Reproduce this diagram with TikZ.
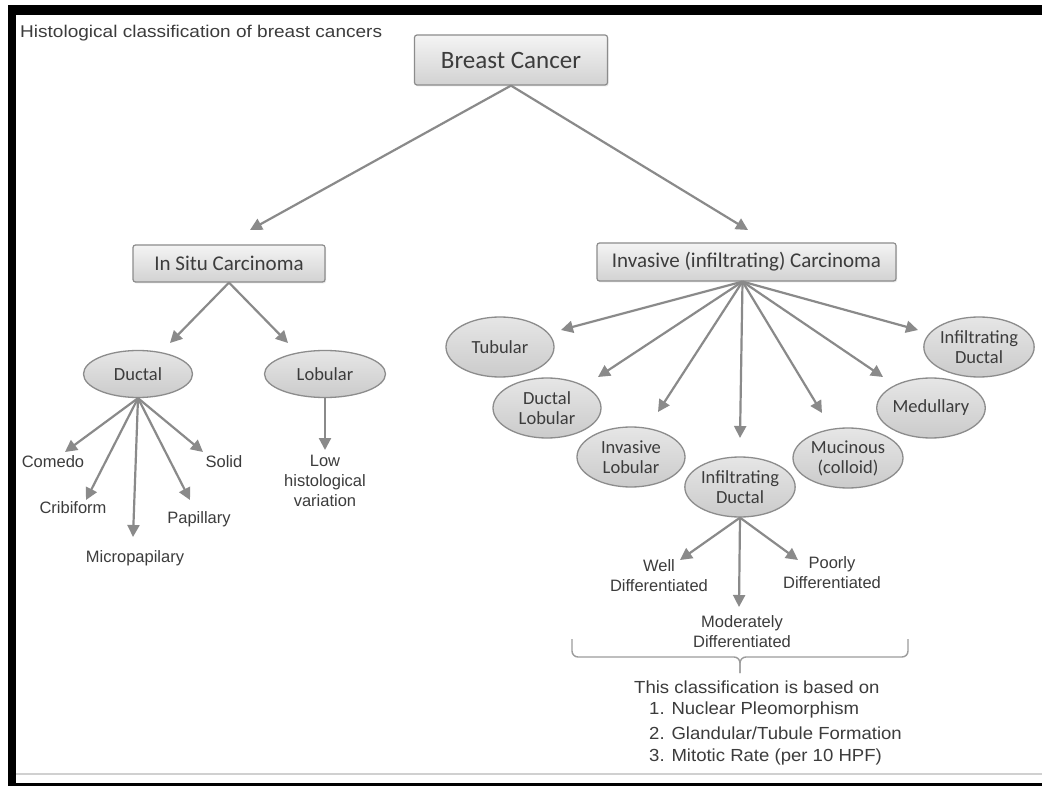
\documentclass[tikz,border=0pt]{standalone}
\usepackage{fontspec}
\setmainfont{Liberation Sans}
\newfontfamily\carl{Carlito}
\newfontfamily\lwide[FakeStretch=1.12]{Liberation Sans}
\newfontfamily\lbot[FakeStretch=1.06]{Liberation Sans}
\usetikzlibrary{arrows.meta,shapes.geometric,shadows}
\definecolor{arrowgray}{HTML}{8A8A8A}
\definecolor{txt}{HTML}{3C3C3C}
\definecolor{edgegray}{HTML}{8C8C8C}
\definecolor{boxtop}{HTML}{F4F4F4}
\definecolor{boxbot}{HTML}{D2D2D2}
\definecolor{elltop}{HTML}{E6E6E6}
\definecolor{ellbot}{HTML}{CBCBCB}
\definecolor{rulegray}{HTML}{D0D0D0}
\tikzset{
  box/.style={draw=edgegray, line width=1.2pt, rounded corners=2.5pt, top color=boxtop, bottom color=boxbot,
    text=txt, inner sep=0pt, drop shadow={opacity=0.18, shadow xshift=1pt, shadow yshift=-1.5pt}},
  ell/.style={ellipse, draw=edgegray, line width=1.3pt, top color=elltop, bottom color=ellbot, text=txt,
    font=\carl\fontsize{18.5}{20}\selectfont, inner sep=0pt, align=center, minimum width=108pt, minimum height=60pt},
  lbl/.style={text=txt, font=\fontsize{16.5}{20}\selectfont, align=center, inner sep=0pt},
  crit/.style={text=txt, font=\lbot\fontsize{17.5}{23}\selectfont, inner sep=0pt, anchor=west},
  arr/.style={draw=arrowgray, line width=2.2pt, -{Triangle[length=12pt,width=12pt]}},
  bracestyle/.style={draw=arrowgray!85, line width=1.4pt, rounded corners=6pt}
}
\begin{document}
\begin{tikzpicture}[x=1pt,y=-1pt]
\useasboundingbox (0,0) rectangle (1042,786);
\fill[white] (0,0) rectangle (1042,786);
% frame
\fill[black] (8,5) rectangle (1042,15);
\fill[black] (8,5) rectangle (16,786);
\fill[black] (8,783) rectangle (1042,786);
\draw[rulegray, line width=2pt] (16,774) -- (1042,774);

% title
\node[text=txt, font=\lwide\fontsize{17}{20}\selectfont, inner sep=0pt, anchor=west] (title) at (20,33) {Histological classification of breast cancers};

% boxes
\node[box, minimum width=193pt, minimum height=50pt, font=\carl\fontsize{25}{28}\selectfont] (bc) at (511,60) {Breast Cancer};
\node[box, minimum width=192pt, minimum height=37pt, font=\carl\fontsize{21}{24}\selectfont] (insitu) at (229,263.5) {In Situ Carcinoma};
\node[box, minimum width=299pt, minimum height=38pt, font=\carl\fontsize{21}{24}\selectfont] (inv) at (746.5,262) {Invasive (infiltrating) Carcinoma};

% in situ ellipses
\node[ell, minimum width=109pt, minimum height=47pt] (ductal) at (138,374) {Ductal};
\node[ell, minimum width=121pt, minimum height=47pt] (lobular) at (325,374) {Lobular};

% invasive ellipses
\node[ell] (tub) at (500,347) {Tubular};
\node[ell] (dlob) at (547,408) {Ductal\\Lobular};
\node[ell] (ilob) at (631,457) {Invasive\\Lobular};
\node[ell, minimum width=110pt] (muc) at (848,458) {Mucinous\\(colloid)};
\node[ell] (med) at (931,408) {Medullary};
\node[ell] (idr) at (979,347) {Infiltrating\\Ductal};
\node[ell] (idc) at (740,487) {Infiltrating\\Ductal};

% labels
\node[lbl] (comedo) at (53,462) {Comedo};
\node[lbl] (crib) at (73,508) {Cribiform};
\node[lbl] (micro) at (135,558) {Micropapilary};
\node[lbl] (pap) at (199,519) {Papillary};
\node[lbl] (solid) at (224,462) {Solid};
\node[lbl] (low) at (325,481) {Low\\histological\\variation};
\node[lbl] (well) at (659,576) {Well\\Differentiated};
\node[lbl] (poor) at (832,573) {Poorly\\Differentiated};
\node[lbl] (mod) at (742,632) {Moderately\\Differentiated};

% criteria text
\node[crit] (basis) at (634,687) {This classification is based on};
\node[crit] (c1) at (649,710) {1. Nuclear Pleomorphism};
\node[crit] (c2) at (649,733) {2. Glandular/Tubule Formation};
\node[crit] (c3) at (649,757) {3. Mitotic Rate (per 10 HPF)};

% arrow tip coordinates
\coordinate (tIS) at (250,230);
\coordinate (tINV) at (748,230);
\coordinate (tDU) at (170,343);
\coordinate (tLO) at (288,343);
\coordinate (tCO) at (65,452);
\coordinate (tCR) at (86,500);
\coordinate (tMI) at (133,537);
\coordinate (tPA) at (190,500);
\coordinate (tSO) at (203,452);
\coordinate (tLOW) at (325,450);
\coordinate (tTU) at (561,330);
\coordinate (tDL) at (598,377);
\coordinate (tIL) at (658,412);
\coordinate (tIDC) at (740,438);
\coordinate (tMU) at (822,413);
\coordinate (tME) at (883,377);
\coordinate (tIDR) at (918,330);
\coordinate (tWE) at (680,560);
\coordinate (tMO) at (739,607);
\coordinate (tPO) at (798,560);

% connectors
\draw[arr] (bc.south) -- (tIS);
\draw[arr] (bc.south) -- (tINV);
\draw[arr] (insitu.south) -- (tDU);
\draw[arr] (insitu.south) -- (tLO);
\foreach \t in {tCO,tCR,tMI,tPA,tSO} \draw[arr] (ductal.south) -- (\t);
\draw[arr] (lobular.south) -- (tLOW);
\coordinate (invapex) at ([xshift=-4pt]inv.south);
\foreach \t in {tTU,tDL,tIL,tIDC,tMU,tME,tIDR} \draw[arr] (invapex) -- (\t);
\foreach \t in {tWE,tMO,tPO} \draw[arr] (idc.south) -- (\t);

% brace
\coordinate (brL) at (572,639);
\coordinate (brR) at (908,639);
\coordinate (brM) at (740,657);
\coordinate (brT) at (740,673);
\draw[bracestyle] (brL) |- (brM) -- (brT);
\draw[bracestyle] (brR) |- (brM) -- (brT);
\end{tikzpicture}
\end{document}
